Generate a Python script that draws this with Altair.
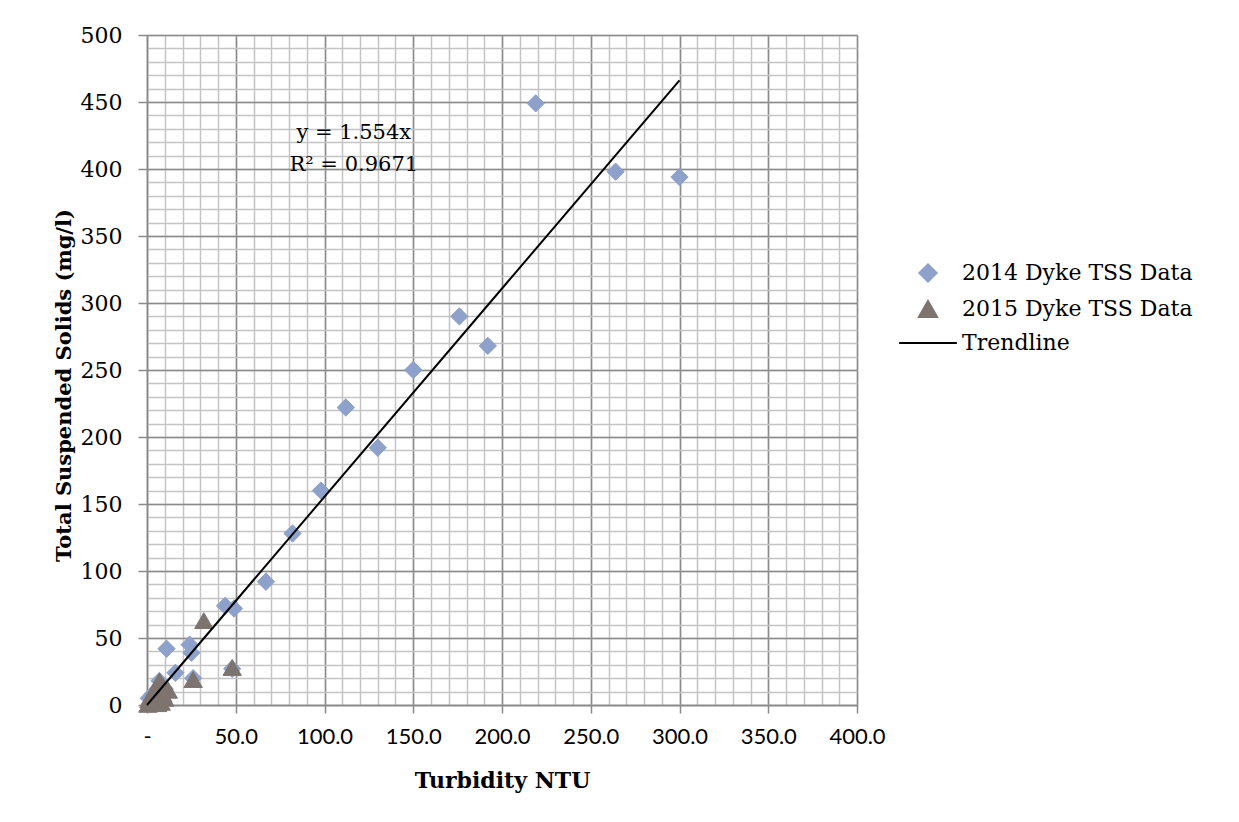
import altair as alt
import pandas as pd

# 2014 Dyke TSS data (turbidity NTU, TSS mg/l)
x2014 = [219, 264, 300, 176, 192, 150, 112, 130, 98, 82, 67, 44, 49, 11, 24, 25, 48, 16, 7, 3, 1, 5, 10, 26, 2]
y2014 = [449, 398, 394, 290, 268, 250, 222, 192, 160, 128, 92, 74, 72, 42, 45, 39, 27, 24, 18, 8, 5, 3, 12, 20, 1]
# 2015 Dyke TSS data
x2015 = [32, 48, 26, 7, 12, 4, 2, 1, 3, 6, 8, 0.5, 9, 5, 10, 3, 6, 1, 9]
y2015 = [63, 28, 19, 18, 11, 8, 3, 1, 5, 6, 2, 0.5, 14, 13, 5, 2, 1, 4, 8]

series_names = ["2014 Dyke TSS Data", "2015 Dyke TSS Data", "Trendline"]
series_colors = ["#8EA1CA", "#7D7470", "#000000"]
series_shapes = ["diamond", "triangle-up", "M-3,0H3"]
series_sizes = [300, 370, 2400]

slope = 1.554
trend_x = [0, 300]
trend_y = [slope * v for v in trend_x]

eq_lines = ["y = 1.554x", "R\u00b2 = 0.9671"]
eq_x = [116.5, 116.5]
eq_y = [427, 403]

x_major = list(range(0, 401, 50))
y_major = list(range(0, 501, 50))
x_minor = list(range(0, 401, 10))
y_minor = list(range(0, 501, 10))

pts = pd.DataFrame({
    "x": x2014 + x2015,
    "y": y2014 + y2015,
    "series": [series_names[0]] * len(x2014) + [series_names[1]] * len(x2015),
})
trend = pd.DataFrame({"x": trend_x, "y": trend_y, "series": [series_names[2]] * 2})
eq = pd.DataFrame({"x": eq_x, "y": eq_y, "t": eq_lines})

xs = alt.Scale(domain=[0, 400], nice=False, zero=True)
ys = alt.Scale(domain=[0, 500], nice=False, zero=True)

cscale = alt.Scale(domain=series_names, range=series_colors)
leg = alt.Legend(
    title=None,
    orient="none",
    legendX=770,
    legendY=227,
    labelFont="DejaVu Serif",
    labelFontSize=22,
    labelColor="#000000",
    labelOffset=23,
    labelLimit=0,
    rowPadding=11,
    symbolStrokeWidth=2,
)

fill = alt.Fill("series:N", scale=cscale, legend=leg)
stroke = alt.Stroke("series:N", scale=cscale, legend=leg)
shape = alt.Shape("series:N", scale=alt.Scale(domain=series_names, range=series_shapes), legend=leg)
size = alt.Size("series:N", scale=alt.Scale(domain=series_names, range=series_sizes), legend=leg)

minor_x_axis = alt.Axis(orient="top", values=x_minor, grid=True, gridColor="#C4C4C4",
                        gridWidth=1.5, labels=False, ticks=False, domain=False, title=None)
minor_y_axis = alt.Axis(orient="right", values=y_minor, grid=True, gridColor="#C4C4C4",
                        gridWidth=1.5, labels=False, ticks=False, domain=False, title=None)

major_x_axis = alt.Axis(
    orient="bottom", values=x_major, grid=True, gridColor="#8A8A8A", gridWidth=1.5,
    labelExpr="datum.value == 0 ? '-' : format(datum.value, '.1f')",
    labelFont="Lato", labelFontSize=22, labelColor="#000000", labelPadding=13,
    labelFlush=False, labelOverlap=False,
    tickColor="#8A8A8A", tickWidth=1.5, tickSize=8,
    domainColor="#8A8A8A", domainWidth=1.5,
    title="Turbidity NTU", titleFont="DejaVu Serif", titleFontSize=22,
    titleFontWeight="bold", titleColor="#000000", titlePadding=23,
)
major_y_axis = alt.Axis(
    orient="left", values=y_major, grid=True, gridColor="#8A8A8A", gridWidth=1.5,
    format="d",
    labelFont="DejaVu Serif", labelFontSize=22, labelColor="#000000", labelPadding=16,
    tickColor="#8A8A8A", tickWidth=1.5, tickSize=9,
    domainColor="#8A8A8A", domainWidth=1.5,
    title="Total Suspended Solids (mg/l)", titleFont="DejaVu Serif", titleFontSize=21,
    titleFontWeight="bold", titleColor="#000000", titlePadding=6, titleY=350,
)

points = alt.Chart(pts).mark_point(strokeWidth=1, opacity=1, fillOpacity=1).encode(
    x=alt.X("x:Q", scale=xs, axis=minor_x_axis),
    y=alt.Y("y:Q", scale=ys, axis=minor_y_axis),
    fill=fill,
    stroke=stroke,
    shape=shape,
    size=size,
)

line = alt.Chart(trend).mark_line(strokeWidth=2).encode(
    x=alt.X("x:Q", scale=xs, axis=major_x_axis),
    y=alt.Y("y:Q", scale=ys, axis=major_y_axis),
    stroke=stroke,
)

text = alt.Chart(eq).mark_text(font="DejaVu Serif", fontSize=21, color="#000000").encode(
    x=alt.X("x:Q", scale=xs, axis=None),
    y=alt.Y("y:Q", scale=ys, axis=None),
    text="t:N",
)

chart = alt.layer(points, line, text).resolve_axis(x="independent", y="independent").properties(
    width=710,
    height=670,
    autosize=alt.AutoSizeParams(type="none"),
    padding={"left": 139, "top": 27, "right": 360, "bottom": 100},
).configure_view(stroke=None).configure(background="#FFFFFF")

chart.save("out.html", embed_options={"renderer": "svg", "actions": False})
